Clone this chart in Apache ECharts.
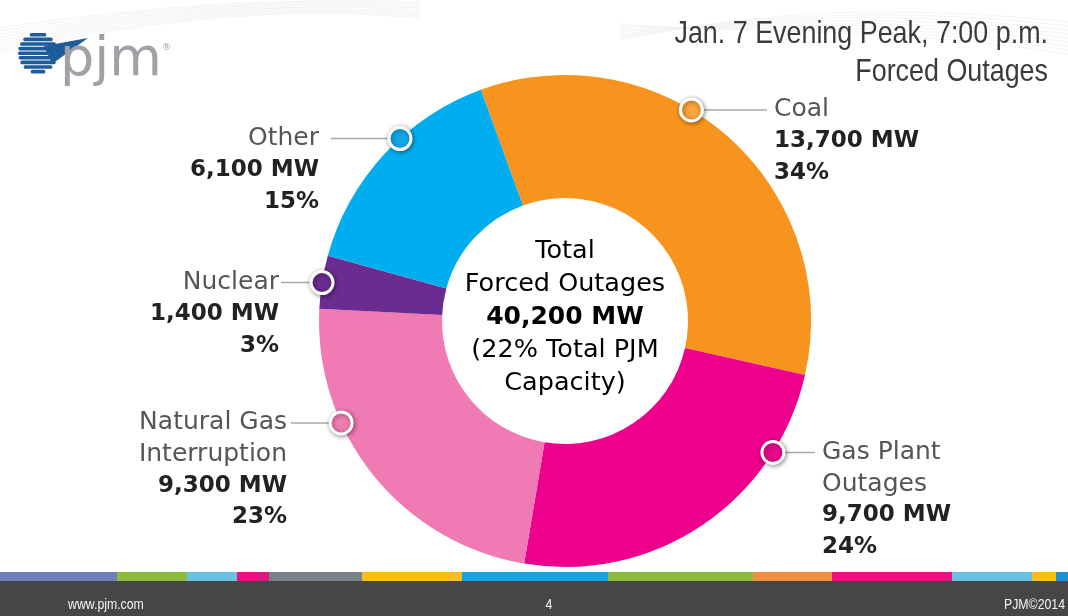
<!DOCTYPE html>
<html lang="en">
<head>
<meta charset="UTF-8">
<title>Jan. 7 Evening Peak - Forced Outages</title>
<script src="https://cdn.jsdelivr.net/npm/echarts@6/dist/echarts.min.js"></script>
<style>
  html, body { margin: 0; padding: 0; background: #fff; }
  #chart { width: 1068px; height: 616px; }
</style>
</head>
<body>
<div id="chart"></div>
<script>
// values
var categories = ['Coal', 'Gas Plant\nOutages', 'Natural Gas\nInterruption', 'Nuclear', 'Other'];
var outagesMW = [13700, 9700, 9300, 1400, 6100];
var sliceColors = ['#f7941d', '#ec008c', '#f07ab3', '#6a2c90', '#00aeef'];
var dotColors = ['#f9a53c', '#e8088c', '#ef7db3', '#6a2c90', '#10aaea'];
var titleLines = ['Jan. 7 Evening Peak, 7:00 p.m.', 'Forced Outages'];
var centerNote = ['(22% Total PJM', 'Capacity)'];

// label placement (dot position along each slice, text column, side)
var markerAt = [0.415, 0.226, 0.672, 0.49, 0.595];
var labelX = [774, 822, 287, 279, 319];
var labelSide = ['left', 'left', 'right', 'right', 'right'];
var lineEndX = [767, 815, 291, 281, 331];
var LINE_H = 31.5;
var CX = 565, CY = 321;

// footer strip
var stripStops = [0, 117, 187, 237, 269, 362, 462, 608, 753, 832, 952, 1032, 1056, 1068];
var stripColors = ['#6d7fb6', '#8cbb3e', '#6cc2e2', '#e3137f', '#7b8287', '#f6bd1c',
                   '#12a3e0', '#8cbb3e', '#ef9140', '#e3137f', '#6cc2e2', '#f6bd1c', '#1f8fd6'];

var LIGHT = '"DejaVu Sans", sans-serif';
var total = outagesMW.reduce(function (a, b) { return a + b; }, 0);
function mw(v) { return v.toLocaleString('en-US') + ' MW'; }

var chart = echarts.init(document.getElementById('chart'));
var markers = [];

function labelText(p) {
  var i = p.dataIndex;
  var parts = p.name.split('\n').map(function (s) { return '{n|' + s + '}'; });
  parts.push('{v|' + mw(outagesMW[i]) + '}');
  parts.push('{v|' + Math.round(outagesMW[i] / total * 100) + '%}');
  return parts.join('\n');
}

function layoutLabel(p) {
  var i = p.dataIndex;
  var m = markers[i];
  if (!m) return {};
  return {
    x: labelX[i],
    y: m[1] - LINE_H / 2,
    align: labelSide[i],
    verticalAlign: 'top',
    labelLinePoints: [[m[0], m[1]], [lineEndX[i], m[1]], [lineEndX[i], m[1]]]
  };
}

// Arial Narrow look: Liberation Sans squeezed horizontally
function narrowText(txt, x, y, size, align, color, lh, squeeze) {
  return {
    type: 'text', silent: true, x: x, y: y, scaleX: squeeze || 0.82,
    style: {
      text: txt, x: 0, y: 0, align: align, verticalAlign: 'top',
      font: size + 'px "Liberation Sans", Arial, sans-serif', lineHeight: lh || size * 1.2, fill: color
    }
  };
}

function decorations() {
  var g = [];
  // faint swooshes at the top
  for (var k = 0; k < 9; k++) {
    g.push({
      type: 'bezierCurve', silent: true, z: -10,
      shape: { x1: 0, y1: 28 + k * 3, cpx1: 120, cpy1: 10 + k * 2, cpx2: 260, cpy2: -4 + k, x2: 420, y2: 2 + k * 2 },
      style: { stroke: '#ececec', lineWidth: 0.7, fill: null }
    });
    g.push({
      type: 'bezierCurve', silent: true, z: -10,
      shape: { x1: 620, y1: 40 - k * 2, cpx1: 760, cpy1: 10 + k * 3, cpx2: 900, cpy2: 4 + k * 3, x2: 1068, y2: 22 + k * 4 },
      style: { stroke: '#efefef', lineWidth: 0.7, fill: null }
    });
  }
  // logo
  g.push({ type: 'polygon', silent: true, shape: { points: [[44, 46], [88, 38], [52, 64]] }, style: { fill: '#1d5d9b' } });
  for (var s = 0; s < 9; s++) {
    var yy = 33 + s * 4.6;
    var dy = yy + 1.8 - 53;
    var half = Math.sqrt(Math.max(0, 20 * 20 - dy * dy));
    g.push({
      type: 'rect', silent: true,
      shape: { x: 38 - half, y: yy, width: half * 2, height: 3.6, r: 1.5 },
      style: { fill: '#1d5d9b' }
    });
  }
  g.push({ type: 'text', silent: true, style: { text: 'pjm', x: 60, y: 34, font: '54px "DejaVu Sans"', fill: '#9ea1a5', verticalAlign: 'top' } });
  g.push({ type: 'text', silent: true, style: { text: '®', x: 162, y: 43, font: '9px "DejaVu Sans"', fill: '#9ea1a5' } });

  // title
  g.push(narrowText(titleLines.join('\n'), 1048, 15, 32, 'right', '#3b3b3b', 38, 0.84));

  // centre of the donut
  g.push({
    type: 'text', silent: true,
    style: {
      text: ['{a|Total}', '{a|Forced Outages}', '{b|' + mw(total) + '}']
        .concat(centerNote.map(function (s) { return '{a|' + s + '}'; })).join('\n'),
      x: CX, y: 317, align: 'center', verticalAlign: 'middle',
      rich: {
        a: { fontFamily: LIGHT, fontSize: 25.5, color: '#555', lineHeight: 33, align: 'center' },
        b: { fontFamily: LIGHT, fontSize: 25, fontWeight: 'bold', color: '#222', lineHeight: 33, align: 'center' }
      }
    }
  });

  // footer
  for (var j = 0; j < stripColors.length; j++) {
    g.push({
      type: 'rect', silent: true,
      shape: { x: stripStops[j], y: 572, width: stripStops[j + 1] - stripStops[j], height: 9 },
      style: { fill: stripColors[j] }
    });
  }
  g.push({ type: 'rect', silent: true, shape: { x: 0, y: 581, width: 1068, height: 35 }, style: { fill: '#464646' } });
  g.push(narrowText('www.pjm.com', 68, 596, 15, 'left', '#f4f4f4'));
  g.push(narrowText('4', 549, 596, 15, 'center', '#f4f4f4'));
  g.push(narrowText('PJM©2014', 1065, 596, 15, 'right', '#f4f4f4'));

  // dots on the rim
  markers.forEach(function (m, i) {
    g.push({
      type: 'circle', silent: true, z: 100,
      shape: { cx: m[0], cy: m[1], r: 11 },
      style: {
        fill: dotColors[i], stroke: '#fff', lineWidth: 3,
        shadowBlur: 5, shadowColor: 'rgba(0,0,0,0.4)', shadowOffsetX: 1, shadowOffsetY: 1
      }
    });
  });
  return g;
}

var option = {
  animation: false,
  backgroundColor: '#fff',
  series: [{
    type: 'pie',
    center: [CX, CY],
    radius: [123, 246],
    startAngle: 110,
    clockwise: true,
    avoidLabelOverlap: false,
    silent: true,
    emphasis: { disabled: true },
    data: categories.map(function (c, i) {
      return { name: c, value: outagesMW[i], itemStyle: { color: sliceColors[i] } };
    }),
    label: {
      show: true,
      position: 'outside',
      formatter: labelText,
      rich: {
        n: { fontFamily: LIGHT, fontSize: 25, color: '#555', lineHeight: LINE_H },
        v: { fontFamily: LIGHT, fontSize: 23, fontWeight: 'bold', color: '#222', lineHeight: LINE_H }
      }
    },
    labelLine: { show: true, lineStyle: { color: '#a8a8a8', width: 1.5 } },
    labelLayout: layoutLabel
  }]
};

chart.setOption(option);

// put the rim dots where the pie actually laid its slices
try {
  var data = chart.getModel().getSeriesByIndex(0).getData();
  for (var i = 0; i < outagesMW.length; i++) {
    var L = data.getItemLayout(i);
    var a = L.startAngle + markerAt[i] * (L.endAngle - L.startAngle);
    markers.push([L.cx + L.r * Math.cos(a), L.cy + L.r * Math.sin(a)]);
  }
} catch (e) {
  markers = [];
  var acc = 0;
  for (var q = 0; q < outagesMW.length; q++) {
    var ang = -110 * Math.PI / 180 + (acc + markerAt[q] * outagesMW[q]) / total * Math.PI * 2;
    markers.push([CX + 246 * Math.cos(ang), CY + 246 * Math.sin(ang)]);
    acc += outagesMW[q];
  }
}

chart.setOption({ graphic: decorations(), series: [{ labelLayout: layoutLabel }] });
</script>
</body>
</html>
